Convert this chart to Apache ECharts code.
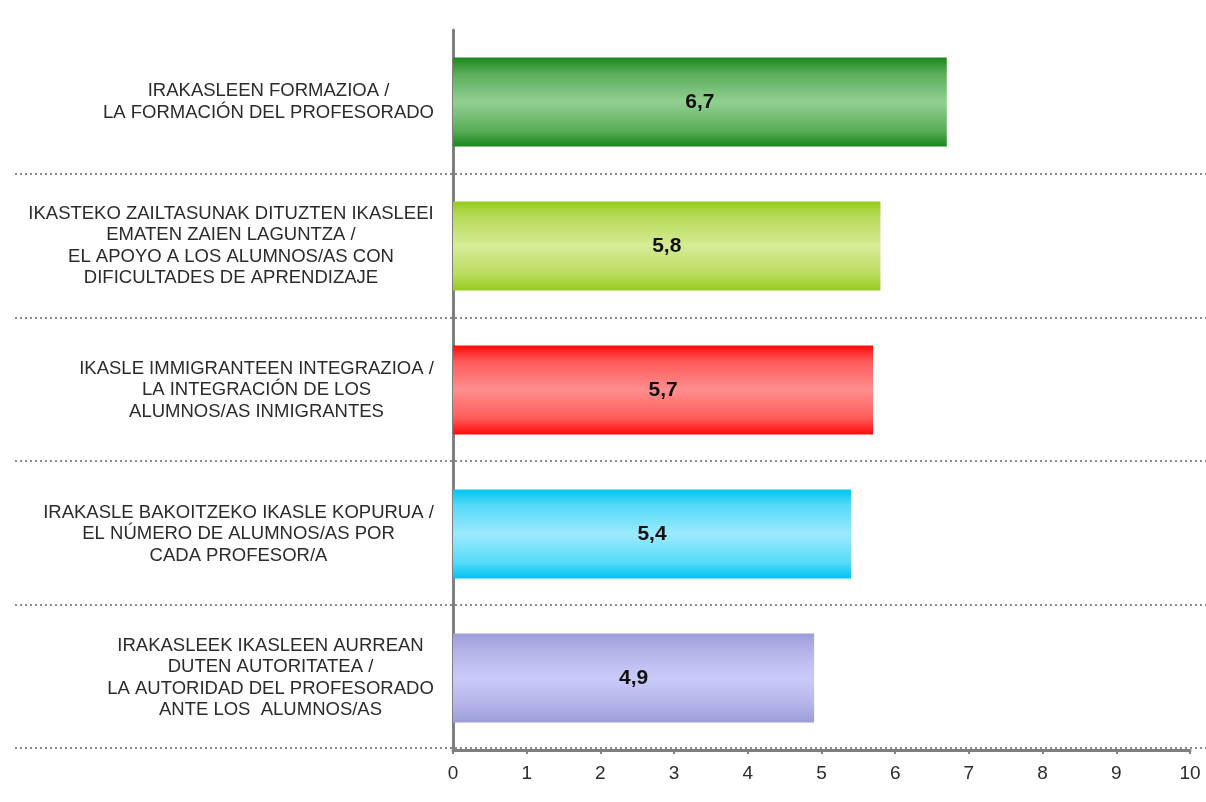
<!DOCTYPE html>
<html>
<head>
<meta charset="utf-8">
<script src="https://cdn.jsdelivr.net/npm/echarts@6/dist/echarts.min.js"></script>
<style>
html,body{margin:0;padding:0;background:#fff;}
#chart{width:1206px;height:802px;}
</style>
</head>
<body>
<div id="chart"></div>
<script>
// ---- data ----
var categories = [
  "IRAKASLEEN FORMAZIOA /\nLA FORMACIÓN DEL PROFESORADO",
  "IKASTEKO ZAILTASUNAK DITUZTEN IKASLEEI\nEMATEN ZAIEN LAGUNTZA /\nEL APOYO A LOS ALUMNOS/AS CON\nDIFICULTADES DE APRENDIZAJE",
  "IKASLE IMMIGRANTEEN INTEGRAZIOA /\nLA INTEGRACIÓN DE LOS\nALUMNOS/AS INMIGRANTES",
  "IRAKASLE BAKOITZEKO IKASLE KOPURUA /\nEL NÚMERO DE ALUMNOS/AS POR\nCADA PROFESOR/A",
  "IRAKASLEEK IKASLEEN AURREAN\nDUTEN AUTORITATEA /\nLA AUTORIDAD DEL PROFESORADO\nANTE LOS  ALUMNOS/AS"
];
var values = [6.7, 5.8, 5.7, 5.4, 4.9];
var xTicks = [0, 1, 2, 3, 4, 5, 6, 7, 8, 9, 10];

// ---- styles ----
var barColors = [
  ["#1a871a", "#5aad5a", "#92cf92"],
  ["#98cb1c", "#b8dc5c", "#d6eb96"],
  ["#ff0a0a", "#ff5a5a", "#ff8e8e"],
  ["#00c4f2", "#55daf8", "#9ceafd"],
  ["#9c9cd8", "#b2b2e8", "#cacafa"]
];
function grad(c) {
  return new echarts.graphic.LinearGradient(0, 0, 0, 1, [
    {offset: 0, color: c[0]},
    {offset: 0.18, color: c[1]},
    {offset: 0.5, color: c[2]},
    {offset: 0.82, color: c[1]},
    {offset: 1, color: c[0]}
  ]);
}

var fam = '"Liberation Sans", Arial, sans-serif';
var labelSize = 18.5;
var cv = document.createElement('canvas').getContext('2d');
cv.font = labelSize + 'px ' + fam;
var rich = {};
categories.forEach(function (c, i) {
  var w = 0;
  c.split('\n').forEach(function (l) { w = Math.max(w, cv.measureText(l).width); });
  rich['r' + i] = {
    width: Math.ceil(w) + 2, align: 'center', fontSize: labelSize, lineHeight: 21.5,
    fontFamily: fam, color: '#2b2b2b'
  };
});

var chart = echarts.init(document.getElementById('chart'));
chart.setOption({
  animation: false,
  backgroundColor: '#ffffff',
  grid: [
    {left: 453, right: 16, top: 30, bottom: 52},
    {left: 15, right: 0, top: 174, bottom: 54}
  ],
  xAxis: [{
    type: 'value', gridIndex: 0, min: 0, max: 10, interval: 1,
    axisLine: {show: true, lineStyle: {color: '#7f7f7f', width: 3}},
    axisTick: {show: true, length: 4, lineStyle: {color: '#7f7f7f', width: 2}},
    splitLine: {show: false},
    axisLabel: {
      margin: 14, fontSize: 19, color: '#2b2b2b', fontFamily: fam,
      formatter: function (v) { return xTicks.indexOf(v) >= 0 ? String(v) : ''; }
    }
  }, {
    type: 'value', gridIndex: 1, min: 0, max: 1, show: false
  }],
  yAxis: [{
    type: 'category', gridIndex: 0, data: categories, inverse: true,
    axisLine: {show: true, lineStyle: {color: '#7f7f7f', width: 3}},
    axisTick: {show: false},
    splitLine: {show: false},
    axisLabel: {
      margin: 18, align: 'right',
      formatter: function (v, i) {
        return v.split('\n').map(function (l) { return '{r' + i + '|' + l + '}'; }).join('\n');
      },
      rich: rich
    }
  }, {
    type: 'value', gridIndex: 1, min: 0, max: 4, interval: 1,
    axisLine: {show: false}, axisTick: {show: false}, axisLabel: {show: false},
    splitLine: {show: true, lineStyle: {color: '#8a8a8a', width: 2, type: [2, 3]}}
  }],
  series: [{
    type: 'bar', xAxisIndex: 0, yAxisIndex: 0, z: 3,
    barWidth: 89,
    data: values.map(function (v, i) {
      return {value: v, itemStyle: {color: grad(barColors[i])}};
    }),
    label: {
      show: true, position: 'inside', color: '#111', fontWeight: 'bold', fontSize: 21,
      fontFamily: fam,
      formatter: function (p) { return String(p.value).replace('.', ','); }
    }
  }]
});
</script>
</body>
</html>
